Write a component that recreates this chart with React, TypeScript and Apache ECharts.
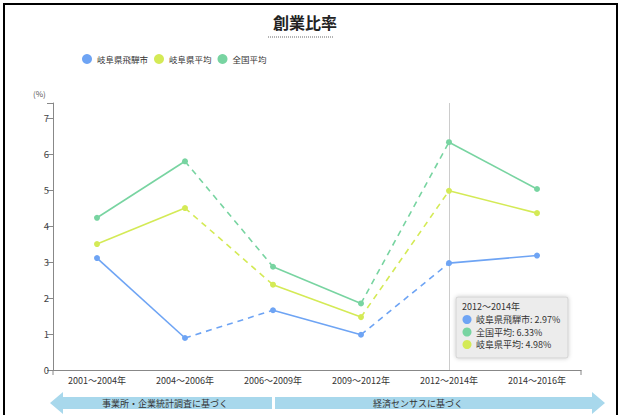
import React, { useEffect, useRef } from "react";
import * as echarts from "echarts";

const periods = ["2001～2004年", "2004～2006年", "2006～2009年", "2009～2012年", "2012～2014年", "2014～2016年"];
const hida = [3.11, 0.89, 1.66, 0.98, 2.97, 3.18];
const gifu = [3.5, 4.5, 2.37, 1.47, 4.98, 4.36];
const national = [4.23, 5.8, 2.87, 1.85, 6.33, 5.03];
const seriesNames = ["岐阜県飛騨市", "岐阜県平均", "全国平均"];
const seriesValues = [hida, gifu, national];
const colors = ["#6ea4f4", "#d4ea56", "#78d4a1"];
const dashedSegments = [[1, 2], [3, 4]];
const solidSegments = [[0, 1], [2, 3], [4, 5]];
const tooltipIndex = 4;
const tooltipOrder = [0, 2, 1];
const sourceLabels = ["事業所・企業統計調査に基づく", "経済センサスに基づく"];
const FONT = '"Noto Sans CJK JP", "Noto Sans", sans-serif';

function segmentData(values: number[], seg: number[]) {
  return values.map((v, i) => (i >= seg[0] && i <= seg[1] ? v : null));
}

export default function App() {
  const ref = useRef<HTMLDivElement>(null);
  useEffect(() => {
    const chart = echarts.init(ref.current!, undefined, { renderer: "svg" });
    const series: any[] = [];
    seriesValues.forEach((vals, k) => {
      solidSegments.forEach((seg, j) => {
        series.push({
          name: seriesNames[k],
          type: "line",
          data: segmentData(vals, seg),
          color: colors[k],
          symbol: "circle",
          symbolSize: 6,
          showSymbol: true,
          lineStyle: { width: 1.6, color: colors[k] },
          itemStyle: { color: colors[k] },
          z: 3,
          ...(k === 0 && j === 0
            ? {
                markLine: {
                  silent: true,
                  symbol: ["none", "none"],
                  label: { show: false },
                  lineStyle: { color: "#cccccc", type: "solid", width: 1 },
                  data: [{ xAxis: periods[tooltipIndex] }],
                  z: 1,
                },
              }
            : {}),
        });
      });
      dashedSegments.forEach((seg) => {
        series.push({
          name: seriesNames[k],
          type: "line",
          data: segmentData(vals, seg),
          color: colors[k],
          symbol: "none",
          showSymbol: false,
          lineStyle: { width: 1.6, color: colors[k], type: [6, 5] },
          z: 2,
        });
      });
    });

    const tipItems = tooltipOrder.map((k, i) => [
      {
        type: "circle",
        shape: { cx: 11, cy: 22.5 + i * 12.5, r: 4.5 },
        style: { fill: colors[k] },
      },
      {
        type: "text",
        x: 20,
        y: 22.5 + i * 12.5,
        style: {
          text: `${seriesNames[k]}: ${seriesValues[k][tooltipIndex].toFixed(2)}%`,
          fontSize: 9,
          lineHeight: 11,
          fontFamily: FONT,
          fill: "#333",
          verticalAlign: "middle",
        },
      },
    ]).flat();

    chart.setOption({
      animation: false,
      backgroundColor: "#fff",
      textStyle: { fontFamily: FONT },
      title: {
        text: "創業比率",
        left: 300,
        top: 9,
        textAlign: "center",
        textStyle: { fontSize: 16, fontWeight: "bold", color: "#222", fontFamily: FONT },
      },
      legend: {
        data: seriesNames.map((n, i) => ({ name: n, icon: "circle", itemStyle: { color: colors[i] } })),
        left: 77,
        top: 49,
        itemWidth: 10,
        itemHeight: 10,
        itemGap: 6,
        textStyle: { fontSize: 8.5, color: "#333", fontFamily: FONT },
      },
      grid: { left: 53, right: 38, top: 103, bottom: 45 },
      xAxis: {
        type: "category",
        data: periods,
        boundaryGap: true,
        axisLine: { lineStyle: { color: "#888" } },
        axisTick: { alignWithLabel: true, length: 5, lineStyle: { color: "#888" } },
        axisLabel: { fontSize: 9, color: "#333", margin: 6, fontFamily: FONT },
      },
      yAxis: {
        type: "value",
        min: 0,
        max: 7.42,
        interval: 1,
        axisLine: { show: true, lineStyle: { color: "#888" } },
        axisTick: { show: true, length: 6, lineStyle: { color: "#888" } },
        splitLine: { show: false },
        axisLabel: {
          fontSize: 9.5,
          color: "#444",
          margin: 4,
          fontFamily: FONT,
          formatter: (v: number) => (Number.isInteger(v) ? String(v) : ""),
        },
      },
      series,
      graphic: [
        {
          type: "rect",
          shape: { x: 4, y: 4, width: 613, height: 430 },
          style: { fill: "none", stroke: "#000", lineWidth: 2 },
          silent: true,
        },
        {
          type: "line",
          shape: { x1: 268, y1: 37, x2: 333, y2: 37 },
          style: { stroke: "#666", lineWidth: 1, lineDash: [1, 1] },
        },
        {
          type: "text",
          x: 33,
          y: 93,
          style: { text: "(%)", fontSize: 8, fill: "#555", fontFamily: FONT, verticalAlign: "middle" },
        },
        {
          type: "line",
          shape: { x1: 53, y1: 370, x2: 53, y2: 375 },
          style: { stroke: "#888", lineWidth: 1 },
        },
        {
          type: "line",
          shape: { x1: 581, y1: 370, x2: 581, y2: 375 },
          style: { stroke: "#888", lineWidth: 1 },
        },
        {
          type: "polygon",
          shape: {
            points: [[50, 403], [63, 392], [63, 397], [272, 397], [272, 409], [63, 409], [63, 414]],
          },
          style: { fill: "#a8d8ec" },
        },
        {
          type: "polygon",
          shape: {
            points: [[275, 397], [592, 397], [592, 392], [605, 403], [592, 414], [592, 409], [275, 409]],
          },
          style: { fill: "#a8d8ec" },
        },
        {
          type: "text",
          x: 165,
          y: 403,
          style: { text: sourceLabels[0], fontSize: 9, fill: "#333", fontFamily: FONT, align: "center", verticalAlign: "middle" },
        },
        {
          type: "text",
          x: 418,
          y: 403,
          style: { text: sourceLabels[1], fontSize: 9, fill: "#333", fontFamily: FONT, align: "center", verticalAlign: "middle" },
        },
        {
          type: "group",
          x: 456,
          y: 297,
          z: 100,
          children: [
            {
              type: "rect",
              shape: { x: 0, y: 0, width: 112, height: 61, r: 2 },
              style: { fill: "#ececec", stroke: "#d2d2d2", lineWidth: 1, shadowBlur: 4, shadowColor: "rgba(0,0,0,0.2)" },
            },
            {
              type: "text",
              x: 6,
              y: 9.5,
              style: { text: periods[tooltipIndex], fontSize: 9, lineHeight: 11, fontFamily: FONT, fill: "#333", verticalAlign: "middle" },
            },
            ...tipItems,
          ],
        },
      ],
    });
    return () => chart.dispose();
  }, []);
  return (
    <div
      ref={ref}
      style={{ position: "fixed", left: 0, top: 0, width: 619, height: 415, background: "#fff" }}
    />
  );
}
